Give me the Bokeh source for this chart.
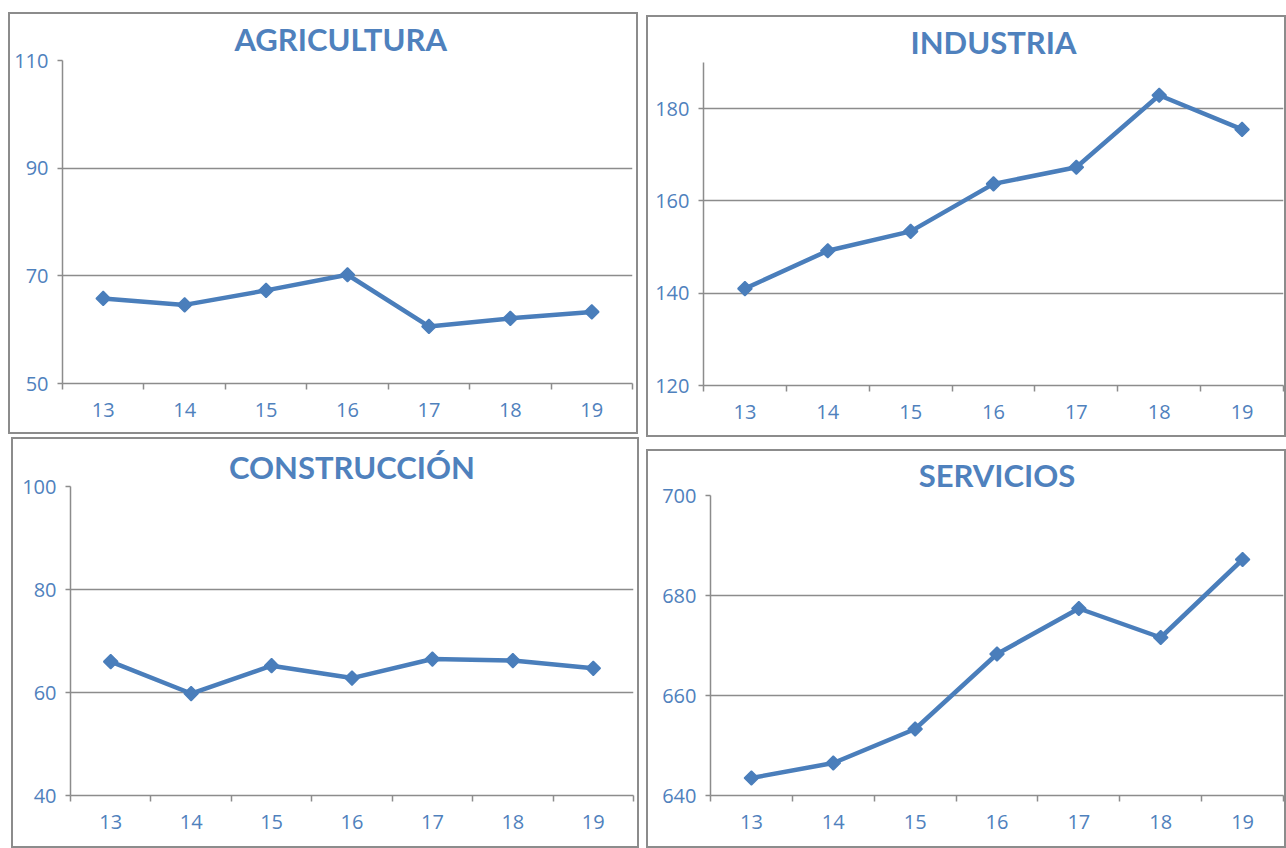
import math
from bokeh.plotting import figure
from bokeh.models import Range1d, FixedTicker, Spacer
from bokeh.layouts import row, column
from bokeh.embed import file_html
from bokeh.resources import INLINE

years = [13, 14, 15, 16, 17, 18, 19]
agricultura = [65.8, 64.6, 67.3, 70.2, 60.6, 62.1, 63.3]
industria = [141.0, 149.2, 153.4, 163.7, 167.3, 182.9, 175.5]
construccion = [66.0, 59.8, 65.2, 62.8, 66.5, 66.2, 64.7]
servicios = [643.5, 646.5, 653.3, 668.3, 677.4, 671.6, 687.2]

agri_ticks = [50, 70, 90, 110]
ind_ticks = [120, 140, 160, 180]
cons_ticks = [40, 60, 80, 100]
serv_ticks = [640, 660, 680, 700]

BLUE = "#4a7ebb"
TXT = "#4f81bd"
GRAY = "#8c8c8c"
FONT = "Open Sans"
TFONT = "Lato"


def make_panel(title, vals, ymin, ymax, yticks, w, h, mbl, mbr, mbt, mbb, tso,
               talign="center", toff=0):
    p = figure(width=w, height=h, output_backend="svg", toolbar_location=None,
               x_range=Range1d(12.5, 19.5), y_range=Range1d(ymin, ymax),
               min_border_left=mbl, min_border_right=mbr,
               min_border_top=mbt, min_border_bottom=mbb, title=title)
    p.styles = {"border": "2px solid " + GRAY}
    p.title.align = talign
    p.title.offset = toff
    p.title.text_font = TFONT
    p.title.text_font_size = "31px"
    p.title.text_font_style = "bold"
    p.title.text_color = TXT
    p.title.standoff = tso
    p.outline_line_color = None
    p.background_fill_color = "white"
    p.border_fill_color = "white"

    p.xgrid.visible = False
    p.ygrid.grid_line_color = GRAY
    p.ygrid.grid_line_width = 1.5

    xa = p.xaxis[0]
    xa.ticker = FixedTicker(ticks=years, minor_ticks=[y - 0.5 for y in years] + [years[-1] + 0.5])
    xa.major_tick_line_color = None
    xa.major_tick_out = 0
    xa.major_tick_in = 0
    xa.minor_tick_line_color = GRAY
    xa.minor_tick_line_width = 1.5
    xa.minor_tick_out = 6
    xa.minor_tick_in = 0
    xa.axis_line_color = GRAY
    xa.axis_line_width = 1.5
    xa.major_label_text_font = FONT
    xa.major_label_text_font_size = "20px"
    xa.major_label_text_color = TXT
    xa.major_label_standoff = 13

    ya = p.yaxis[0]
    ya.ticker = FixedTicker(ticks=yticks)
    ya.minor_tick_line_color = None
    ya.major_tick_line_color = GRAY
    ya.major_tick_line_width = 1.5
    ya.major_tick_out = 5
    ya.major_tick_in = 0
    ya.axis_line_color = GRAY
    ya.axis_line_width = 1.5
    ya.major_label_text_font = FONT
    ya.major_label_text_font_size = "20px"
    ya.major_label_text_color = TXT
    ya.major_label_standoff = 9

    p.line(years, vals, line_color=BLUE, line_width=4.5)
    p.scatter(years, vals, marker="square", size=10, angle=math.pi / 4,
              fill_color=BLUE, line_color=BLUE, line_width=1.5)
    return p


p1 = make_panel("AGRICULTURA", agricultura, 50, 110, agri_ticks, 630, 422, 52, 8, 46, 53, 5,
                talign="left", toff=172)
p2 = make_panel("INDUSTRIA", industria, 120, 190, ind_ticks, 640, 422, 55, 5, 45, 54, 4)
p3 = make_panel("CONSTRUCCIÓN", construccion, 40, 100, cons_ticks, 628, 411, 57, 8, 47, 55, 1)
p4 = make_panel("SERVICIOS", servicios, 640, 700, serv_ticks, 640, 399, 62, 5, 44, 55, 3)

left = column(Spacer(height=12), row(Spacer(width=1), p1), Spacer(height=3), row(Spacer(width=4), p3))
right = column(Spacer(height=15), row(Spacer(width=1), p2), Spacer(height=12), row(Spacer(width=1), p4))
layout = row(Spacer(width=7), left, Spacer(width=6), right)

open("out.html", "w").write(file_html(layout, INLINE))
